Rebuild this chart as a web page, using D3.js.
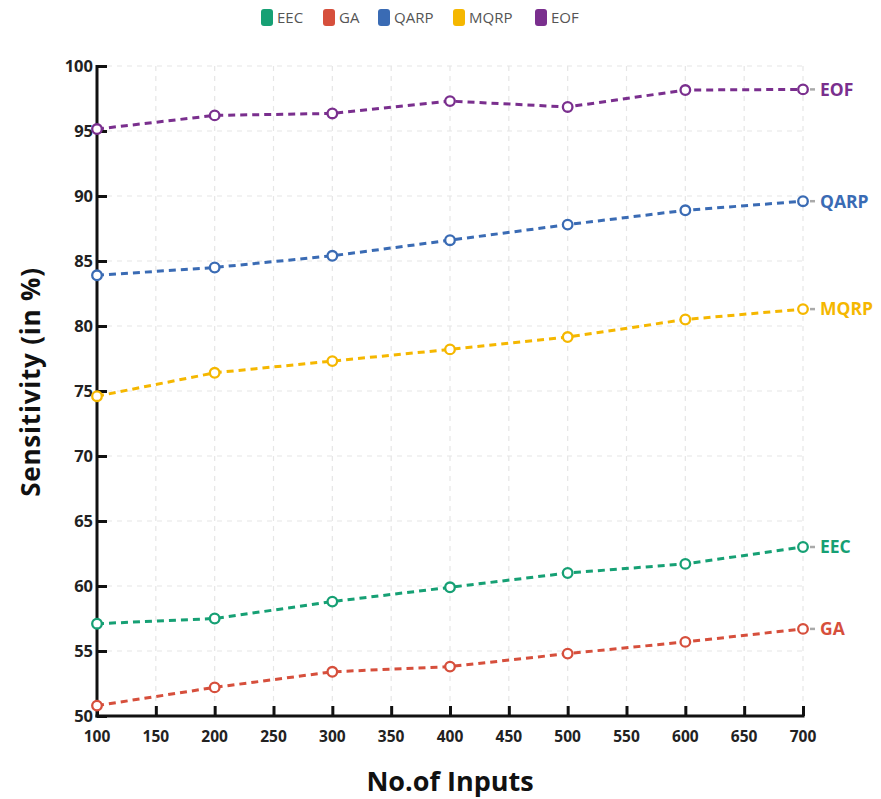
<!DOCTYPE html>
<html><head><meta charset="utf-8">
<script src="https://cdn.jsdelivr.net/npm/d3@7"></script>
<style>body{margin:0;background:#fff;font-family:"Open Sans","Noto Sans",sans-serif;}</style>
</head><body><svg id="c" width="881" height="799"></svg>
<script>
const inputs = [100, 200, 300, 400, 500, 600, 700];
const EEC  = [57.1, 57.5, 58.8, 59.9, 61.0, 61.7, 63.0];
const GA   = [50.8, 52.2, 53.4, 53.8, 54.8, 55.7, 56.7];
const QARP = [83.9, 84.5, 85.4, 86.6, 87.8, 88.9, 89.6];
const MQRP = [74.6, 76.4, 77.3, 78.2, 79.15, 80.5, 81.3];
const EOF  = [95.15, 96.2, 96.35, 97.3, 96.85, 98.15, 98.2];
const seriesNames = ["EEC", "GA", "QARP", "MQRP", "EOF"];
const seriesColors = ["#16a074", "#d64f3c", "#3a6bb4", "#f5b700", "#7a2f8e"];
const seriesValues = [EEC, GA, QARP, MQRP, EOF];
const xTicks = [100,150,200,250,300,350,400,450,500,550,600,650,700];
const yTicks = [50,55,60,65,70,75,80,85,90,95,100];

const svg = d3.select("#c");
const L = 97, R = 803, T = 66, B = 716;
const x = d3.scaleLinear().domain([100, 700]).range([L, R]);
const y = d3.scaleLinear().domain([50, 100]).range([B, T]);

// grid
const g = svg.append("g");
g.selectAll(".vg").data(xTicks.slice(1)).join("line")
  .attr("x1", d => x(d)).attr("x2", d => x(d)).attr("y1", T).attr("y2", B)
  .attr("stroke", "#e6e6e6").attr("stroke-width", 1.2).attr("stroke-dasharray", "5,5");
g.selectAll(".hg").data(yTicks.slice(1)).join("line")
  .attr("x1", L).attr("x2", R).attr("y1", d => y(d)).attr("y2", d => y(d))
  .attr("stroke", "#e6e6e6").attr("stroke-width", 1.2).attr("stroke-dasharray", "5,5");

// axes
const yAxis = svg.append("g").attr("transform", `translate(${L},0)`)
  .call(d3.axisRight(y).tickValues(yTicks).tickSize(10).tickFormat(""));
yAxis.select(".domain").remove();
yAxis.selectAll("line").attr("stroke", "#111").attr("stroke-width", 3);
const xAxis = svg.append("g").attr("transform", `translate(0,${B})`)
  .call(d3.axisTop(x).tickValues(xTicks).tickSize(10).tickFormat(""));
xAxis.select(".domain").remove();
xAxis.selectAll("line").attr("stroke", "#111").attr("stroke-width", 3);
svg.append("line").attr("x1", L).attr("x2", L).attr("y1", T - 1).attr("y2", B + 1.5)
  .attr("stroke", "#111").attr("stroke-width", 3);
svg.append("line").attr("x1", L - 1.5).attr("x2", R + 1.5).attr("y1", B).attr("y2", B)
  .attr("stroke", "#111").attr("stroke-width", 3);

svg.selectAll(".yl").data(yTicks).join("text")
  .attr("x", L - 4).attr("y", d => y(d)).attr("dy", "0.36em")
  .attr("text-anchor", "end").attr("font-size", 16.5).attr("font-weight", 700)
  .attr("fill", "#222").text(d => d);
svg.selectAll(".xl").data(xTicks).join("text")
  .attr("x", d => x(d)).attr("y", B + 26)
  .attr("text-anchor", "middle").attr("font-size", 15.5).attr("font-weight", 700)
  .attr("fill", "#222").text(d => d);

// titles
svg.append("text").attr("transform", `translate(40,382) rotate(-90)`)
  .attr("text-anchor", "middle").attr("font-size", 26).attr("font-weight", 700)
  .attr("letter-spacing", 0.8).attr("fill", "#111").text("Sensitivity (in %)");
svg.append("text").attr("x", 450).attr("y", 791)
  .attr("text-anchor", "middle").attr("font-size", 27).attr("font-weight", 700)
  .attr("fill", "#111").text("No.of Inputs");

// lines
const line = d3.line().x((d, i) => x(inputs[i])).y(d => y(d));
seriesValues.forEach((vals, si) => {
  const col = seriesColors[si];
  svg.append("path").datum(vals).attr("d", line).attr("fill", "none")
    .attr("stroke", col).attr("stroke-width", 3).attr("stroke-dasharray", "7,5");
  svg.selectAll(null).data(vals).join("circle")
    .attr("cx", (d, i) => x(inputs[i])).attr("cy", d => y(d)).attr("r", 4.8)
    .attr("fill", "#fff").attr("stroke", col).attr("stroke-width", 2.3);
  const last = vals[vals.length - 1];
  svg.append("line").attr("x1", x(700) + 7).attr("x2", x(700) + 12)
    .attr("y1", y(last)).attr("y2", y(last)).attr("stroke", "#aaa").attr("stroke-width", 2.5);
  svg.append("text").attr("x", x(700) + 17).attr("y", y(last)).attr("dy", "0.36em")
    .attr("font-size", 17.5).attr("font-weight", 700).attr("fill", col)
    .text(seriesNames[si]);
});

// legend
const legX = [261, 323, 378, 453, 535];
seriesNames.forEach((n, i) => {
  svg.append("rect").attr("x", legX[i]).attr("y", 9).attr("width", 12).attr("height", 17)
    .attr("rx", 3).attr("fill", seriesColors[i]);
  svg.append("text").attr("x", legX[i] + 16).attr("y", 18).attr("dy", "0.36em")
    .attr("font-size", 15).attr("fill", "#555").text(n);
});
</script></body></html>
